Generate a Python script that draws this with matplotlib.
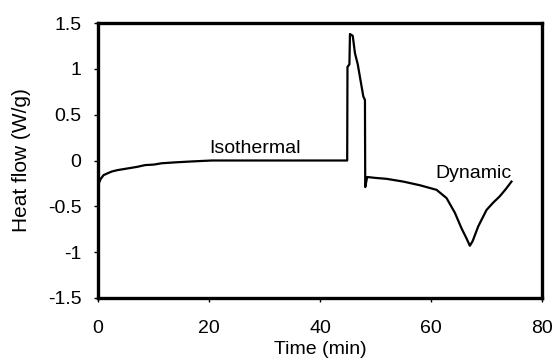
import matplotlib
matplotlib.use("Agg")
import matplotlib.pyplot as plt

# heat flow trace
time_min = [0, 0.2, 0.5, 1.0, 1.7, 2.5, 3.5, 4.5, 5.5, 7, 8.5, 10, 11.5,
            14, 17, 20.5, 25, 30, 35, 40, 44.9, 44.95, 45.3, 45.4, 45.9,
            46.3, 46.8, 47.2, 47.8, 48.1, 48.15, 48.5, 50, 52, 55, 58, 61,
            62.8, 64.3, 65.5, 66.4, 67.0, 67.5, 68.5, 70, 71.2, 72.4, 73.5,
            74.5]
heat_flow = [-0.29, -0.24, -0.2, -0.16, -0.14, -0.12, -0.105, -0.095,
             -0.085, -0.07, -0.05, -0.045, -0.03, -0.02, -0.01, 0.0, 0.0,
             0.0, 0.0, 0.0, 0.0, 1.02, 1.05, 1.38, 1.36, 1.17, 1.05, 0.91,
             0.7, 0.66, -0.29, -0.18, -0.19, -0.2, -0.23, -0.27, -0.32,
             -0.41, -0.57, -0.74, -0.85, -0.93, -0.88, -0.72, -0.54, -0.46,
             -0.39, -0.31, -0.23]

x_ticks = [0, 20, 40, 60, 80]
y_ticks = [-1.5, -1, -0.5, 0, 0.5, 1, 1.5]
y_tick_labels = ["-1.5", "-1", "-0.5", "0", "0.5", "1", "1.5"]

plt.rcParams["font.family"] = ["Liberation Sans", "DejaVu Sans"]

fig = plt.figure(figsize=(5.54, 3.62), dpi=100)
ax = fig.add_axes([98 / 554, 1 - 298 / 362, 444 / 554, 275 / 362])

ax.plot(time_min, heat_flow, color="black", linewidth=1.6)

ax.set_xlim(0, 80)
ax.set_ylim(-1.5, 1.5)
ax.set_xticks(x_ticks)
ax.set_yticks(y_ticks)
ax.set_yticklabels(y_tick_labels)
ax.tick_params(direction="out", length=3, width=1, labelsize=14)
ax.tick_params(axis="x", pad=13)
ax.tick_params(axis="y", pad=9)

for spine in ax.spines.values():
    spine.set_linewidth(2.4)

ax.set_xlabel("Time (min)", fontsize=14, labelpad=3)
ax.set_ylabel("Heat flow (W/g)", fontsize=15, labelpad=12)

ax.text(20.0, 0.08, "Isothermal", fontsize=14)
ax.text(60.7, -0.19, "Dynamic", fontsize=14)

fig.savefig("out.png", dpi=100)
